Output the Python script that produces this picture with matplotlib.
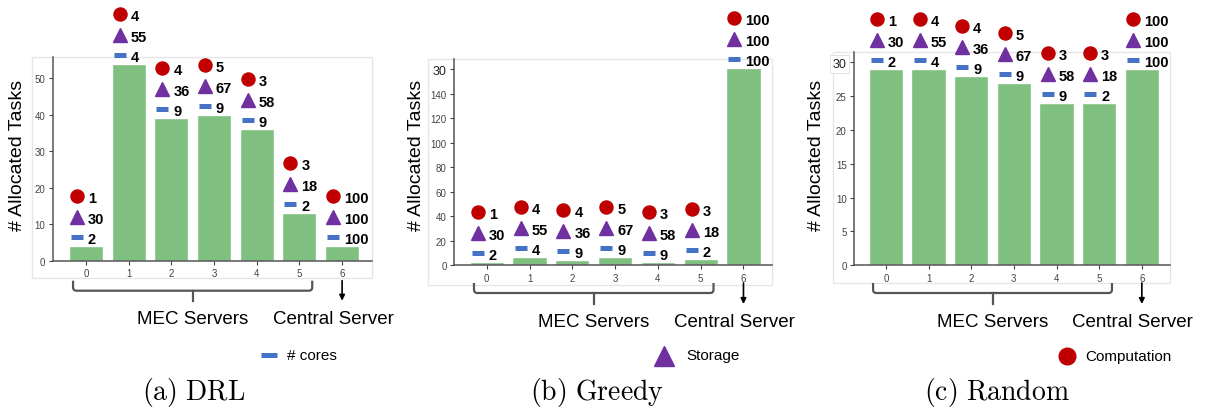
import matplotlib
matplotlib.use('Agg')
import matplotlib.pyplot as plt
import numpy as np
from matplotlib import rc, transforms
from matplotlib.patches import Rectangle, PathPatch
from matplotlib.path import Path
from matplotlib.lines import Line2D

rc('font', family=['Liberation Sans', 'DejaVu Sans'])
rc('mathtext', fontset='cm')

# data
servers = [0, 1, 2, 3, 4, 5, 6]
drl_tasks = [4, 54, 39, 40, 36, 13, 4]
greedy_tasks = [3, 7, 4, 7, 3, 5, 161]
random_tasks = [29, 29, 28, 27, 24, 24, 29]

computation = [1, 4, 4, 5, 3, 3, 100]
storage = [30, 55, 36, 67, 58, 18, 100]
cores = [2, 4, 9, 9, 9, 2, 100]

drl_yticks = [0, 10, 20, 30, 40, 50]
drl_ylabels = ['0', '10', '20', '30', '40', '50']
greedy_yticks = [0, 20, 40, 60, 80, 100, 120, 140, 160]
greedy_ylabels = ['0', '20', '40', '60', '80', '100', '120', '140', '30']
random_yticks = [0, 5, 10, 15, 20, 25, 30]
random_ylabels = ['0', '5', '10', '15', '20', '25', '30']

captions = ['(a)\\ DRL', '(b)\\ Greedy', '(c)\\ Random']
legend_names = ['# cores', 'Storage', 'Computation']

W, H = 1211, 410
RED = '#c00000'
PURPLE = '#7030a0'
BLUE = '#4472c4'
GREEN = '#7fbf7f'

fig = plt.figure(figsize=(W / 100, H / 100), dpi=100)


def fx(x):
    return x / W


def fy(y):
    return 1 - y / H


def fbox(l, t, r, b):
    return [fx(l), fy(b), (r - l) / W, (b - t) / H]


panels = [
    dict(tasks=drl_tasks, yt=drl_yticks, yl=drl_ylabels, ylim=55.8,
         ax=(53, 58, 372, 261.7), frame=(31.7, 58, 372, 279), xlim=(-0.77, 6.70),
         ylab=18, br=(281.7, 291.7, 301.7), txt_y=320, cap_x=193.7,
         leg=(269.3, 355.7, 286.7)),
    dict(tasks=greedy_tasks, yt=greedy_yticks, yl=greedy_ylabels, ylim=168.2,
         ax=(454.3, 60, 771.7, 266.3), frame=(427.7, 60, 771.7, 285.7), xlim=(-0.76, 6.66),
         ylab=416.7, br=(284, 294, 305), txt_y=322.7, cap_x=596.7,
         leg=(664, 356.5, 686.7)),
    dict(tasks=random_tasks, yt=random_yticks, yl=random_ylabels, ylim=31.5,
         ax=(854.3, 53.3, 1170, 266.3), frame=(833.3, 53.3, 1170, 284), xlim=(-0.74, 6.66),
         ylab=816.7, br=(284, 294, 305), txt_y=322.7, cap_x=996.7,
         leg=(1066.7, 357.3, 1085.7)),
]

for k, p in enumerate(panels):
    l, t, r, b = p['frame']
    fig.patches.append(Rectangle((fx(l), fy(b)), (r - l) / W, (b - t) / H,
                                 transform=fig.transFigure, fill=False,
                                 edgecolor='#e6e6e6', lw=1, zorder=-5))

    ax = fig.add_axes(fbox(*p['ax']))
    ax.patch.set_alpha(0)
    ax.bar(servers, p['tasks'], width=0.8, color=GREEN, edgecolor='white', lw=1)
    ax.set_xlim(*p['xlim'])
    ax.set_ylim(0, p['ylim'])
    ax.set_xticks(servers)
    ax.set_xticklabels([str(s) for s in servers])
    ax.set_yticks(p['yt'])
    ax.set_yticklabels(p['yl'])
    ax.tick_params(labelsize=7, colors='#444444', length=3, width=0.8, pad=2.5)
    for side in ['top', 'right']:
        ax.spines[side].set_visible(False)
    for side in ['left', 'bottom']:
        ax.spines[side].set_color('#555555')
        ax.spines[side].set_linewidth(1.1)
    if k > 0:
        top = ax.get_yticklabels()[-1]
        top.set_fontsize(9)
        top.set_color('#222222')
        if k == 2:
            top.set_bbox(dict(facecolor='white', edgecolor='#dddddd', lw=0.6, pad=2))

    # marker stacks above each bar
    rows = [(9, '_', BLUE, 8.6, cores),
            (29, '^', PURPLE, 10.5, storage),
            (50, 'o', RED, 9.4, computation)]
    for dy, mk, col, ms, vals in rows:
        tr = transforms.offset_copy(ax.transData, fig=fig, x=-9, y=dy, units='dots')
        if mk == '_':
            ax.plot(servers, p['tasks'], ls='none', marker=mk, ms=ms, mew=3.6,
                    color=col, transform=tr, clip_on=False, zorder=5)
        else:
            ax.plot(servers, p['tasks'], ls='none', marker=mk, ms=ms,
                    color=col, mec=col, transform=tr, clip_on=False, zorder=5)
        ttr = transforms.offset_copy(ax.transData, fig=fig, x=2, y=dy - 2, units='dots')
        for s, h, v in zip(servers, p['tasks'], vals):
            ax.text(s, h, str(v), transform=ttr, ha='left', va='center',
                    fontsize=10.5, fontweight='bold', color='black', zorder=6)

    # bracket under MEC servers and arrow to central server
    blend = transforms.blended_transform_factory(ax.transData, fig.transFigure)
    y0, y1, y2 = p['br']
    x0, x1, xm = -0.3, 5.3, 2.5
    rx, ry = 0.08, 3.5 / H
    verts = [(x0, fy(y0)), (x0, fy(y1) + ry), (x0, fy(y1)), (x0 + rx, fy(y1)),
             (x1 - rx, fy(y1)), (x1, fy(y1)), (x1, fy(y1) + ry), (x1, fy(y0))]
    codes = [Path.MOVETO, Path.LINETO, Path.CURVE3, Path.CURVE3,
             Path.LINETO, Path.CURVE3, Path.CURVE3, Path.LINETO]
    fig.patches.append(PathPatch(Path(verts, codes), transform=blend, fill=False,
                                 edgecolor='#555555', lw=1.6))
    fig.lines.append(Line2D([xm, xm], [fy(y1), fy(y2)], transform=blend,
                            color='#555555', lw=1.6))
    ax.annotate('', xy=(6, fy(y2)), xytext=(6, fy(y0)), xycoords=blend,
                textcoords=blend,
                arrowprops=dict(arrowstyle='-|>', color='black', lw=1.2,
                                mutation_scale=8, shrinkA=0, shrinkB=0))

    ax.text(xm, fy(p['txt_y']), 'MEC Servers', transform=blend, ha='center',
            va='center', fontsize=13.5)
    ax.text(5.79, fy(p['txt_y']), 'Central Server', transform=blend,
            ha='center', va='center', fontsize=13.5)

    fig.text(fx(p['ylab']), fy(155.5), '# Allocated Tasks', rotation=90,
             ha='center', va='center', fontsize=14)

    # legend entry under each panel
    lx, ly, tx = p['leg']
    if k == 0:
        fig.lines.append(Line2D([fx(lx)], [fy(ly)], transform=fig.transFigure,
                                marker='_', ms=12, mew=3.6, color=BLUE, ls='none'))
    elif k == 1:
        fig.lines.append(Line2D([fx(lx)], [fy(ly)], transform=fig.transFigure,
                                marker='^', ms=15, color=PURPLE, ls='none'))
    else:
        fig.lines.append(Line2D([fx(lx)], [fy(ly)], transform=fig.transFigure,
                                marker='o', ms=12, color=RED, ls='none'))
    fig.text(fx(tx), fy(ly), legend_names[k], ha='left', va='center', fontsize=11)

    fig.text(fx(p['cap_x']), fy(393), '$\\mathrm{' + captions[k] + '}$',
             ha='center', va='center', fontsize=20)

plt.savefig('out.png', dpi=100)
